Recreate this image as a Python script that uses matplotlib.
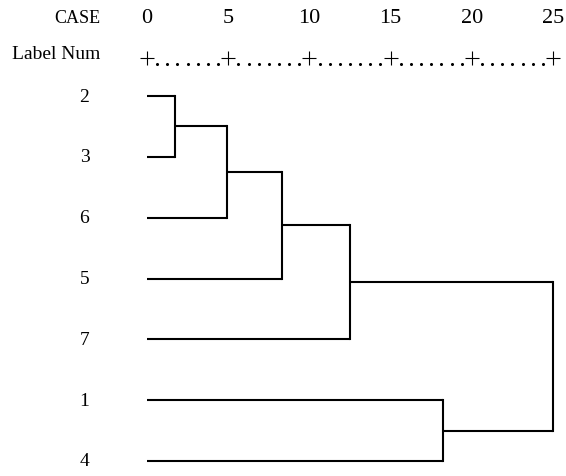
import matplotlib
matplotlib.use('Agg')
import matplotlib.pyplot as plt

# data ###############################################################
leaf_labels = ['2', '3', '6', '5', '7', '1', '4']
merge_left = ['2', 'c1', 'c2', 'c3', '1', 'c4']
merge_right = ['3', '6', '5', '7', '4', 'c5']
merge_dist = [1.7, 4.95, 8.3, 12.5, 18.25, 25.0]
scale_ticks = [0, 5, 10, 15, 20, 25]

fig = plt.figure(figsize=(5.66, 4.77), dpi=100)
ax = fig.add_axes([147 / 566, 1 - 462 / 477, 406 / 566, 365 / 477])
ax.set_xlim(0, 25)
ax.set_ylim(len(leaf_labels) - 1, 0)
ax.axis('off')

# node positions
nodes = {}
for i, lab in enumerate(leaf_labels):
    nodes[lab] = (0.0, float(i))

lw = 1.5
for k, (a, b, d) in enumerate(zip(merge_left, merge_right, merge_dist)):
    xa, ya = nodes[a]
    xb, yb = nodes[b]
    ax.plot([xa, d], [ya, ya], color='black', lw=lw, clip_on=False, solid_capstyle='butt')
    ax.plot([xb, d], [yb, yb], color='black', lw=lw, clip_on=False, solid_capstyle='butt')
    ax.plot([d, d], [ya, yb], color='black', lw=lw, clip_on=False, solid_capstyle='projecting')
    nodes['c%d' % (k + 1)] = (d, (ya + yb) / 2)

serif = ['Liberation Serif', 'DejaVu Serif']

# leaf labels
for i, lab in enumerate(leaf_labels):
    ax.text(-3.85, i, lab, ha='center', va='center', fontsize=14,
            family=serif, clip_on=False)

# header: scale numbers and the +....+ ruler
y_num = -1.22
y_rule = -0.625
for t in scale_ticks:
    ax.text(t, y_num, str(t), ha='center', va='baseline', fontsize=16,
            family=serif, clip_on=False)
ax.plot(scale_ticks, [y_rule] * len(scale_ticks), linestyle='none', marker='+',
        color='black', markersize=10, markeredgewidth=0.8, clip_on=False)
dot_x = []
for t in scale_ticks[:-1]:
    for j in range(1, 8):
        dot_x.append(t + 5 * j / 8)
ax.plot(dot_x, [y_rule + 0.1] * len(dot_x), linestyle='none', marker='o',
        color='black', markersize=1.2, clip_on=False)

ax.text(-2.9, y_num, 'CASE', ha='right', va='baseline', fontsize=13,
        family=serif, clip_on=False)
ax.text(-2.9, y_rule, 'Label Num', ha='right', va='baseline', fontsize=14,
        family=serif, clip_on=False)

fig.savefig('out.png', dpi=100)
